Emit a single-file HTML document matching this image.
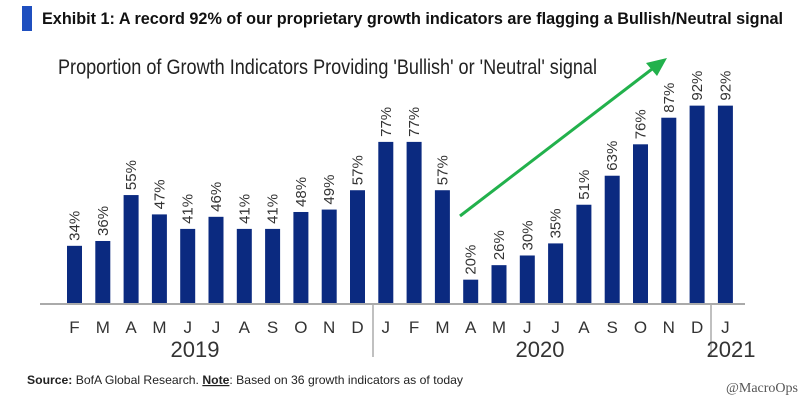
<!DOCTYPE html>
<html><head><meta charset="utf-8"><style>body{margin:0;background:#fff}svg{display:block}</style></head>
<body>
<svg id="c" width="805" height="402" font-family="Liberation Sans Narrow, Liberation Sans, sans-serif">
<rect x="22" y="6" width="10" height="25" fill="#1f4fbf"/>
<text x="42" y="24" font-size="17" font-weight="bold" fill="#111" textLength="741" lengthAdjust="spacingAndGlyphs">Exhibit 1: A record 92% of our proprietary growth indicators are flagging a Bullish/Neutral signal</text>
<text x="58" y="74" font-size="21" fill="#222" textLength="539" lengthAdjust="spacingAndGlyphs">Proportion of Growth Indicators Providing 'Bullish' or 'Neutral' signal</text>
<g id="bars"></g>
<line x1="40" y1="304" x2="745" y2="304" stroke="#aaa" stroke-width="2"/>
<line x1="373" y1="304" x2="373" y2="357" stroke="#aaa" stroke-width="1.5"/>
<line x1="711" y1="304" x2="711" y2="357" stroke="#aaa" stroke-width="1.5"/>
<g id="months" font-size="17" fill="#333"></g>
<text x="195" y="357" font-size="22" fill="#333" text-anchor="middle">2019</text>
<text x="540" y="357" font-size="22" fill="#333" text-anchor="middle">2020</text>
<text x="731" y="357" font-size="22" fill="#333" text-anchor="middle">2021</text>
<line x1="460" y1="216" x2="656" y2="66" stroke="#22b14c" stroke-width="3"/>
<polygon points="667,58 646,63 657,76" fill="#22b14c"/>
<text x="27" y="384" font-size="12" fill="#222" textLength="436" lengthAdjust="spacingAndGlyphs"><tspan font-weight="bold">Source:</tspan>  BofA Global Research. <tspan font-weight="bold" text-decoration="underline">Note</tspan>: Based on 36 growth indicators as of today</text>
<text x="798" y="392" font-size="14" fill="#555" text-anchor="end" font-family="Liberation Serif, serif">@MacroOps</text>
</svg>
<script>
const months = ["F","M","A","M","J","J","A","S","O","N","D","J","F","M","A","M","J","J","A","S","O","N","D","J"];
const values = [34,36,55,47,41,46,41,41,48,49,57,77,77,57,20,26,30,35,51,63,76,87,92,92];
const NS="http://www.w3.org/2000/svg";
const x0=74.5, step=28.3, bw=15, base=303;
function xs(i){return x0+i*step;}
function ys(v){return Math.min(base, 328-2.417*v);}
const gb=document.getElementById('bars'), gm=document.getElementById('months');
values.forEach((v,i)=>{
  const r=document.createElementNS(NS,'rect');
  r.setAttribute('x',xs(i)-bw/2);r.setAttribute('y',ys(v));
  r.setAttribute('width',bw);r.setAttribute('height',base-ys(v));r.setAttribute('fill','#0b2a80');
  
  
  gb.appendChild(r);
  const t=document.createElementNS(NS,'text');
  const ty=ys(v)-5, tx=xs(i)+5;
  t.setAttribute('x',tx);t.setAttribute('y',ty);
  t.setAttribute('transform','rotate(-90 '+tx+' '+ty+')');
  t.setAttribute('font-size','15');t.setAttribute('fill','#333');
  t.textContent=v+'%';
  
  
  gb.appendChild(t);
  const m=document.createElementNS(NS,'text');
  m.setAttribute('x',xs(i));m.setAttribute('y',333);m.setAttribute('text-anchor','middle');
  m.textContent=months[i];
  
  
  gm.appendChild(m);
});
</script>
</body></html>
